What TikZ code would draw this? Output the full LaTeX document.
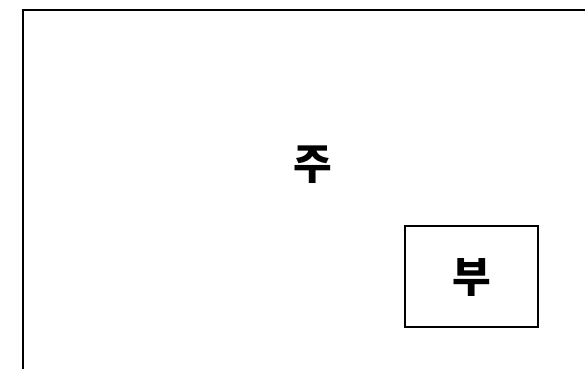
\documentclass[tikz,border=0pt]{standalone}
\usepackage{fontspec}
\newfontfamily\krfont{Noto Sans CJK KR}
\begin{document}
\begin{tikzpicture}[x=1pt,y=1pt,
  frame/.style={draw=black,line width=2.4pt},
  label/.style={font=\krfont\bfseries\fontsize{42}{48}\selectfont,inner sep=0pt}]
\useasboundingbox (0,0) rectangle (585,368);
\clip (0,0) rectangle (585,368);
% outer container (cut at right and bottom)
\coordinate (oBL) at (23,-5);
\coordinate (oTL) at (23,358);
\coordinate (oTR) at (590,358);
\draw[frame] (oBL) -- (oTL) -- (oTR);
\node[label] (main) at (312.5,203) {주};
% inner box
\node[frame,minimum width=133pt,minimum height=101pt,inner sep=0pt] (subbox) at (471.5,91.5) {};
\node[label] (sub) at (471.5,90.5) {부};
\end{tikzpicture}
\end{document}
